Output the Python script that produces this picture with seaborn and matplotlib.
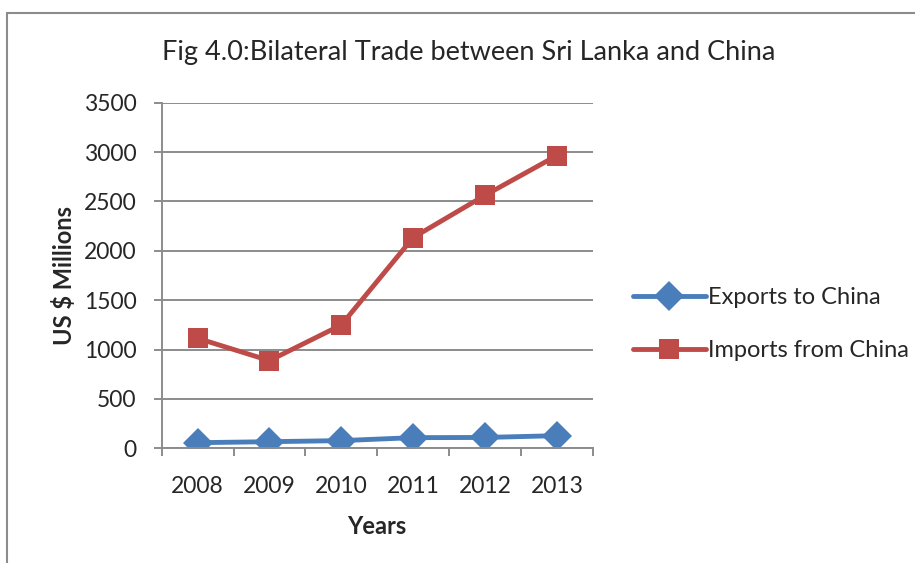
import matplotlib
matplotlib.use("Agg")
import matplotlib.pyplot as plt
from matplotlib.patches import Rectangle
import numpy as np
import pandas as pd
import seaborn as sns

years = [2008, 2009, 2010, 2011, 2012, 2013]
exports_to_china = [57, 67, 78, 108, 110, 128]
imports_from_china = [1114, 888, 1249, 2134, 2562, 2964]
series_names = ["Exports to China", "Imports from China"]
y_ticks = [0, 500, 1000, 1500, 2000, 2500, 3000, 3500]

df = pd.DataFrame({
    "Year": years * 2,
    "Value": exports_to_china + imports_from_china,
    "Series": [series_names[0]] * len(years) + [series_names[1]] * len(years),
})

sns.set_theme(style="white")
plt.rcParams["font.family"] = ["Lato", "DejaVu Sans"]

fig = plt.figure(figsize=(9.15, 5.63), dpi=100)
ax = fig.add_axes([0.1767, 0.2037, 0.4711, 0.6139])

palette = {series_names[0]: "#4A7EBB", series_names[1]: "#BE4B48"}
markers = {series_names[0]: "D", series_names[1]: "s"}
sns.lineplot(data=df, x="Year", y="Value", hue="Series", style="Series",
             palette=palette, markers=markers, dashes=False, linewidth=3.5,
             markersize=15, markeredgewidth=0, ax=ax, legend=True)

ax.set_xlim(years[0] - 0.5, years[-1] + 0.5)
ax.set_ylim(0, 3500)
ax.set_yticks(y_ticks)
ax.set_xticks(years)
ax.set_xticks([y - 0.5 for y in years] + [years[-1] + 0.5], minor=True)
ax.grid(axis="y", color="#8c8c8c", linewidth=1.4)
ax.grid(axis="x", visible=False)
for side in ["top", "right"]:
    ax.spines[side].set_visible(False)
for side in ["left", "bottom"]:
    ax.spines[side].set_color("#8c8c8c")
    ax.spines[side].set_linewidth(1.4)
ax.tick_params(axis="y", which="major", length=6, width=1.4, color="#8c8c8c",
               labelsize=16.5, pad=12, left=True, direction="out")
ax.tick_params(axis="x", which="major", length=0, labelsize=16.5, pad=20)
ax.tick_params(axis="x", which="minor", length=6, width=1.4, color="#8c8c8c",
               bottom=True, direction="out")
ax.set_axisbelow(True)

ax.set_xlabel("Years", fontsize=17, fontweight="bold", labelpad=13)
ax.set_ylabel("US $ Millions", fontsize=17, fontweight="bold", labelpad=6)
fig.text(0.512, 0.907, "Fig 4.0:Bilateral Trade between Sri Lanka and China",
         ha="center", va="center", fontsize=19.5)

handles, labels = ax.get_legend_handles_labels()
ax.legend(handles, labels, loc="center left", bbox_to_anchor=(1.065, 0.36),
          frameon=False, fontsize=17, handlelength=3.1, handletextpad=0.1,
          labelspacing=1.35, borderpad=0)

fig.patches.append(Rectangle((7 / 915, -0.05), 1.2, 1 - 13 / 563 + 0.05,
                             transform=fig.transFigure, fill=False,
                             edgecolor="#8c8c8c", linewidth=1.5))

fig.savefig("out.png", dpi=100)
